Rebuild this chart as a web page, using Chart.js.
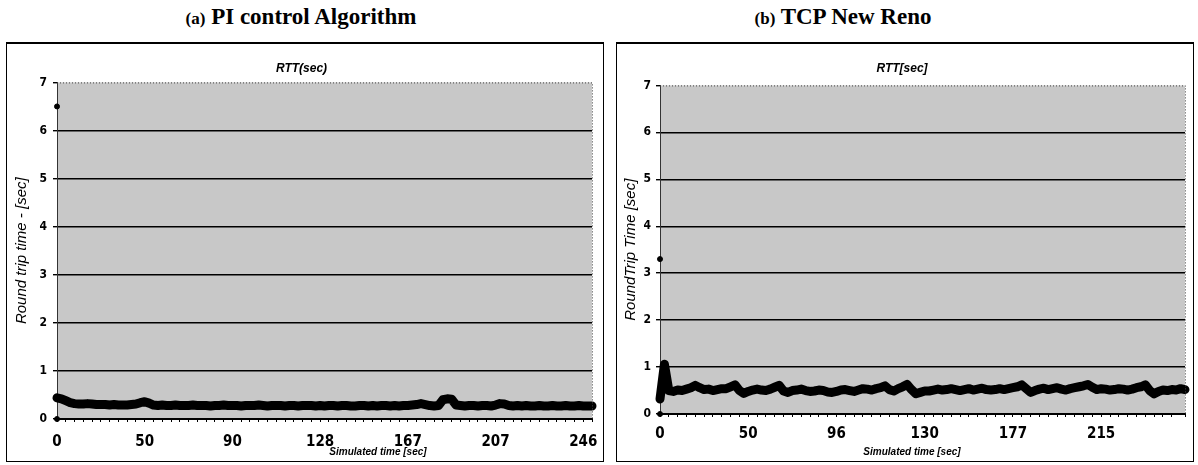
<!DOCTYPE html>
<html>
<head>
<meta charset="utf-8">
<title>RTT comparison</title>
<script src="https://cdn.jsdelivr.net/npm/chart.js@4.4.1/dist/chart.umd.min.js"></script>
<style>
  body {
    margin: 0;
    width: 1198px;
    height: 465px;
    position: relative;
    overflow: hidden;
    background: #fff;
  }
  .heading {
    position: absolute;
    top: 4px;
    line-height: 26px;
    font-family: "Liberation Serif", "Times New Roman", serif;
    font-weight: bold;
    font-size: 23px;
    text-align: center;
    white-space: nowrap;
    color: #000;
  }
  .heading span {
    font-size: 17px;
  }
  .panel {
    position: absolute;
    top: 42px;
    border: 1px solid #000;
    border-top-width: 2px;
  }
  .panel canvas {
    display: block;
  }
</style>
</head>
<body>
<div class="heading" style="left: 0; width: 602px;"><span>(a)</span> PI control Algorithm</div>
<div class="heading" style="left: 600px; width: 486px;"><span>(b)</span> TCP New Reno</div>

<div class="panel" style="left: 6px;"><canvas id="piChart" width="596" height="417"></canvas></div>
<div class="panel" style="left: 616px;"><canvas id="renoChart" width="576" height="417"></canvas></div>

<script>
// x tick labels (simulated time, every 20 samples)
const piTimeLabels = ["0", "50", "90", "128", "167", "207", "246"];
const renoTimeLabels = ["0", "50", "96", "130", "177", "215"];

// round trip time per sample [sec]
const piRtt = [
  0.44, 0.42, 0.38, 0.34, 0.32, 0.31, 0.31, 0.32, 0.31, 0.30,
  0.30, 0.30, 0.29, 0.30, 0.29, 0.29, 0.29, 0.30, 0.31, 0.34,
  0.36, 0.33, 0.29, 0.28, 0.29, 0.28, 0.28, 0.29, 0.28, 0.28,
  0.28, 0.29, 0.28, 0.28, 0.28, 0.27, 0.28, 0.28, 0.29, 0.28,
  0.28, 0.28, 0.27, 0.28, 0.28, 0.28, 0.29, 0.28, 0.27, 0.28,
  0.28, 0.28, 0.27, 0.28, 0.28, 0.27, 0.28, 0.28, 0.28, 0.27,
  0.28, 0.27, 0.28, 0.28, 0.27, 0.28, 0.28, 0.27, 0.27, 0.28,
  0.28, 0.27, 0.28, 0.27, 0.28, 0.28, 0.27, 0.28, 0.27, 0.28,
  0.28, 0.29, 0.30, 0.32, 0.30, 0.28, 0.27, 0.28, 0.40, 0.42,
  0.41, 0.29, 0.28, 0.27, 0.28, 0.28, 0.27, 0.28, 0.28, 0.27,
  0.29, 0.32, 0.31, 0.28, 0.27, 0.28, 0.27, 0.28, 0.27, 0.27,
  0.28, 0.27, 0.27, 0.28, 0.27, 0.27, 0.28, 0.27, 0.27, 0.28,
  0.27, 0.27, 0.27
];

const renoRtt = [
  0.32, 1.06, 0.50, 0.48, 0.51, 0.50, 0.53, 0.56, 0.61, 0.56,
  0.52, 0.53, 0.50, 0.52, 0.54, 0.54, 0.58, 0.62, 0.50, 0.44,
  0.48, 0.51, 0.53, 0.51, 0.50, 0.53, 0.57, 0.61, 0.49, 0.46,
  0.50, 0.51, 0.53, 0.50, 0.48, 0.49, 0.51, 0.50, 0.47, 0.46,
  0.48, 0.51, 0.52, 0.50, 0.48, 0.51, 0.54, 0.53, 0.51, 0.54,
  0.56, 0.60, 0.52, 0.49, 0.54, 0.58, 0.63, 0.52, 0.43, 0.46,
  0.49, 0.49, 0.51, 0.53, 0.51, 0.52, 0.54, 0.52, 0.50, 0.52,
  0.54, 0.51, 0.53, 0.55, 0.52, 0.51, 0.52, 0.54, 0.52, 0.54,
  0.56, 0.58, 0.62, 0.54, 0.46, 0.50, 0.53, 0.55, 0.52, 0.54,
  0.56, 0.53, 0.51, 0.54, 0.56, 0.58, 0.60, 0.63, 0.57, 0.52,
  0.54, 0.53, 0.51, 0.52, 0.54, 0.53, 0.51, 0.53, 0.56, 0.58,
  0.62, 0.50, 0.43, 0.48, 0.51, 0.50, 0.52, 0.51, 0.54, 0.52
];

// isolated samples logged at t = 0
const piStartRtt = [6.5, 0];
const renoStartRtt = [3.3, 0];

const LABEL_EVERY = 20;
const tickFont = { family: "'Liberation Sans Narrow', 'DejaVu Sans Condensed', sans-serif", weight: "bold" };

// grey plot background, dotted frame and the x caption
const plotFrame = {
  id: "plotFrame",
  beforeDraw(chart, args, opts) {
    const { ctx, chartArea: a } = chart;
    ctx.save();
    ctx.fillStyle = opts.fill;
    ctx.fillRect(a.left, a.top, a.width, a.height);
    ctx.restore();
  },
  afterDraw(chart, args, opts) {
    const { ctx, chartArea: a } = chart;
    ctx.save();
    ctx.strokeStyle = "#444";
    ctx.lineWidth = 1;
    ctx.setLineDash([1, 2]);
    ctx.beginPath();
    ctx.moveTo(a.left, a.top + 0.5);
    ctx.lineTo(a.right + 0.5, a.top + 0.5);
    ctx.lineTo(a.right + 0.5, a.bottom);
    ctx.stroke();
    ctx.setLineDash([]);
    ctx.font = "italic bold 10px 'Liberation Sans', sans-serif";
    ctx.fillStyle = "#000";
    ctx.textAlign = "center";
    ctx.textBaseline = "middle";
    ctx.fillText(opts.caption, a.left + a.width * opts.captionAt, opts.captionY);
    ctx.restore();
  }
};

function makeRttChart(canvasId, cfg) {
  const line = cfg.values.map((v, i) => ({ x: i, y: v }));
  const start = cfg.startValues.map((v) => ({ x: 0, y: v }));

  return new Chart(document.getElementById(canvasId), {
    type: "line",
    data: {
      datasets: [
        {
          data: line,
          borderColor: "#000",
          borderWidth: cfg.lineWidth,
          borderJoinStyle: "round",
          borderCapStyle: "round",
          pointRadius: 0,
          tension: 0,
          clip: false
        },
        {
          data: start,
          showLine: false,
          pointRadius: 2.5,
          pointBackgroundColor: "#000",
          pointBorderColor: "#000",
          clip: false
        }
      ]
    },
    options: {
      responsive: false,
      animation: false,
      events: [],
      layout: { padding: { left: 0, right: cfg.padRight, top: 0, bottom: 0 } },
      plugins: {
        legend: { display: false },
        tooltip: { enabled: false },
        title: {
          display: true,
          text: cfg.title,
          color: "#000",
          font: { family: "'Liberation Sans', sans-serif", size: 12, style: "italic", weight: "bold" },
          padding: { top: 17, bottom: cfg.titleGap }
        },
        plotFrame: {
          fill: "#c8c8c8",
          caption: "Simulated time [sec]",
          captionAt: cfg.captionAt,
          captionY: 408
        }
      },
      scales: {
        x: {
          type: "linear",
          min: 0,
          max: cfg.values.length - 1,
          afterFit: (scale) => { scale.height = cfg.xHeight; },
          border: { color: "#000", width: 2 },
          grid: { drawOnChartArea: false, tickLength: 3, color: "#000" },
          ticks: {
            stepSize: 2,
            autoSkip: false,
            maxRotation: 0,
            padding: cfg.xTickPad,
            color: "#000",
            font: { ...tickFont, size: 15 },
            callback: (value) => {
              const i = Math.round(value);
              return i % LABEL_EVERY === 0 ? (cfg.labels[i / LABEL_EVERY] ?? "") : "";
            }
          }
        },
        y: {
          min: 0,
          max: 7,
          afterFit: (scale) => { scale.width = cfg.yWidth; },
          border: { color: "#333", width: 1 },
          grid: {
            color: (c) => (c.tick.value > 0 && c.tick.value < 7 ? "#000" : "rgba(0,0,0,0)"),
            lineWidth: 1.4,
            tickColor: "#000",
            tickLength: 4
          },
          ticks: {
            stepSize: 1,
            padding: cfg.yTickPad,
            color: "#000",
            font: { ...tickFont, size: 12 }
          },
          title: {
            display: true,
            text: cfg.yTitle,
            color: "#000",
            font: { family: "'Liberation Sans', sans-serif", size: 15, style: "italic" },
            padding: { top: cfg.yTitlePad, bottom: 0 }
          }
        }
      }
    },
    plugins: [plotFrame]
  });
}

makeRttChart("piChart", {
  values: piRtt,
  startValues: piStartRtt,
  labels: piTimeLabels,
  title: "RTT(sec)",
  yTitle: "Round trip time - [sec]",
  lineWidth: 9,
  padRight: 7,
  titleGap: 7,
  xHeight: 42,
  yWidth: 50,
  xTickPad: 11,
  yTickPad: 6,
  yTitlePad: 6,
  captionAt: 0.6
});

makeRttChart("renoChart", {
  values: renoRtt,
  startValues: renoStartRtt,
  labels: renoTimeLabels,
  title: "RTT[sec]",
  yTitle: "RoundTrip Time [sec]",
  lineWidth: 9,
  padRight: 6,
  titleGap: 10,
  xHeight: 47,
  yWidth: 43,
  xTickPad: 8,
  yTickPad: 5,
  yTitlePad: 5,
  captionAt: 0.48
});
</script>
</body>
</html>
